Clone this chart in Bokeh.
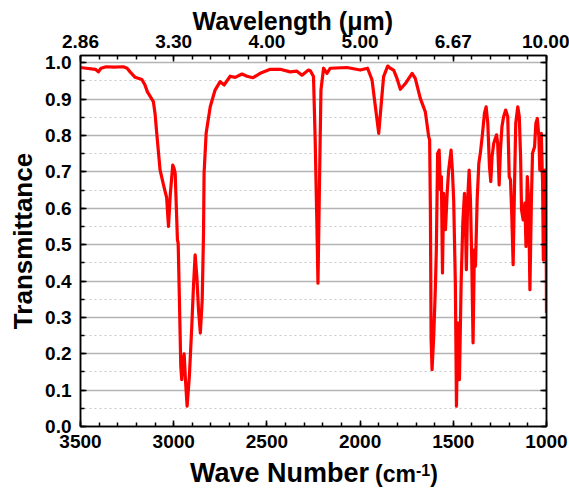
from bokeh.plotting import figure
from bokeh.models import (Range1d, LinearAxis, SingleIntervalTicker, PrintfTickFormatter,
                          CustomJSTickFormatter, Div)
from bokeh.layouts import column
from bokeh.embed import file_html
from bokeh.resources import INLINE

# ---- data ----
wave_number = [3500, 3470, 3440, 3420, 3404, 3390, 3362, 3320, 3270, 3250, 3234, 3207, 3171, 3155, 3141,
               3109, 3100, 3091, 3073, 3055, 3046, 3038, 3028, 3018, 3005, 2998, 2992, 2980, 2976, 2969,
               2962, 2957, 2950, 2944, 2937, 2928, 2916, 2903, 2894, 2885, 2876, 2867, 2857, 2847, 2840,
               2837, 2826, 2804, 2778, 2751, 2729, 2697, 2670, 2634, 2607, 2575, 2536, 2482, 2429, 2375,
               2339, 2312, 2277, 2267, 2250, 2241, 2232, 2226, 2217, 2210, 2196, 2178, 2160, 2070, 1999,
               1960, 1936, 1918, 1900, 1888, 1874, 1852, 1838, 1820, 1802, 1784, 1757, 1721, 1704, 1677,
               1650, 1632, 1627, 1623, 1619, 1614, 1605, 1596, 1591, 1584, 1576, 1569, 1564, 1558, 1552,
               1542, 1533, 1525, 1512, 1505, 1498, 1489, 1483, 1476, 1467, 1458, 1449, 1440, 1435, 1430,
               1423, 1415, 1408, 1401, 1394, 1387, 1381, 1372, 1363, 1355, 1345, 1333, 1324, 1315, 1306,
               1299, 1292, 1283, 1268, 1262, 1254, 1247, 1239, 1230, 1219, 1208, 1200, 1193, 1186, 1179,
               1172, 1165, 1154, 1146, 1139, 1134, 1125, 1116, 1110, 1103, 1096, 1089, 1081, 1075, 1064,
               1057, 1049, 1041, 1036, 1028, 1021, 1017, 1010, 1003, 1000]
transmittance = [0.987, 0.985, 0.983, 0.982, 0.975, 0.985, 0.989, 0.988, 0.989, 0.985, 0.975, 0.960, 0.954, 0.940, 0.920,
                 0.893, 0.860, 0.806, 0.705, 0.665, 0.646, 0.630, 0.550, 0.640, 0.719, 0.710, 0.696, 0.513, 0.504, 0.340,
                 0.166, 0.129, 0.180, 0.200, 0.129, 0.056, 0.138, 0.275, 0.385, 0.472, 0.413, 0.321, 0.257, 0.349, 0.532,
                 0.696, 0.806, 0.879, 0.925, 0.948, 0.939, 0.963, 0.960, 0.969, 0.963, 0.959, 0.971, 0.982, 0.982, 0.975,
                 0.977, 0.966, 0.980, 0.978, 0.962, 0.788, 0.559, 0.394, 0.696, 0.925, 0.985, 0.971, 0.985, 0.987, 0.980,
                 0.985, 0.953, 0.879, 0.806, 0.879, 0.962, 0.991, 0.985, 0.980, 0.957, 0.927, 0.943, 0.971, 0.957, 0.902,
                 0.865, 0.797, 0.788, 0.605, 0.239, 0.156, 0.248, 0.385, 0.486, 0.751, 0.760, 0.651, 0.687, 0.422, 0.641,
                 0.541, 0.641, 0.705, 0.760, 0.705, 0.623, 0.394, 0.056, 0.285, 0.129, 0.394, 0.559, 0.641, 0.559, 0.431,
                 0.623, 0.705, 0.623, 0.458, 0.230, 0.486, 0.440, 0.623, 0.724, 0.751, 0.797, 0.861, 0.879, 0.834, 0.715,
                 0.673, 0.742, 0.779, 0.802, 0.779, 0.664, 0.760, 0.824, 0.852, 0.870, 0.852, 0.687, 0.678, 0.577, 0.445,
                 0.651, 0.834, 0.879, 0.852, 0.742, 0.596, 0.568, 0.614, 0.495, 0.687, 0.623, 0.376, 0.623, 0.751, 0.769,
                 0.834, 0.847, 0.797, 0.705, 0.806, 0.669, 0.458, 0.705, 0.705, 0.312]

wn_ticks = [3500, 3000, 2500, 2000, 1500, 1000]
wavelength_labels = ["2.86", "3.30", "4.00", "5.00", "6.67", "10.00"]

FONT = "Liberation Sans"

p = figure(width=569, height=458, output_backend="svg", toolbar_location=None,
           x_range=Range1d(3500, 1000), y_range=Range1d(0, 1.02),
           min_border_left=80, min_border_right=23, min_border_top=55, min_border_bottom=32,
           x_axis_location=None, y_axis_location=None)
p.background_fill_color = "white"
p.border_fill_color = "white"
p.outline_line_color = "black"
p.outline_line_width = 1.5

p.title.text = "Wavelength (\u03bcm)"
p.title.align = "left"
p.title.offset = 112
p.title.text_font = FONT
p.title.text_font_style = "bold"
p.title.text_font_size = "25px"
p.title.text_color = "black"
p.title.standoff = -6

xticker = SingleIntervalTicker(interval=500, num_minor_ticks=5)
yticker = SingleIntervalTicker(interval=0.1, num_minor_ticks=2)


def style_axis(ax):
    ax.axis_line_color = "black"
    ax.axis_line_width = 1.5
    ax.major_tick_in = 6
    ax.major_tick_out = 0
    ax.minor_tick_in = 4
    ax.minor_tick_out = 0
    ax.major_tick_line_color = "black"
    ax.minor_tick_line_color = "black"
    ax.major_tick_line_width = 1.5
    ax.minor_tick_line_width = 1.5
    ax.major_label_text_font = FONT
    ax.major_label_text_font_style = "bold"
    ax.major_label_text_font_size = "19px"
    ax.major_label_text_color = "black"


bottom = LinearAxis(ticker=xticker, formatter=PrintfTickFormatter(format="%d"))
style_axis(bottom)
bottom.major_label_standoff = 8
p.add_layout(bottom, "below")

top = LinearAxis(ticker=xticker,
                 major_label_overrides={t: s for t, s in zip(wn_ticks, wavelength_labels)})
style_axis(top)
top.major_label_standoff = 8
p.add_layout(top, "above")

left = LinearAxis(ticker=yticker, formatter=PrintfTickFormatter(format="%.1f"))
style_axis(left)
left.major_label_standoff = 9
left.axis_label = "Transmittance"
left.axis_label_text_font = FONT
left.axis_label_text_font_style = "bold"
left.axis_label_text_font_size = "26px"
left.axis_label_text_color = "black"
left.axis_label_standoff = 4
p.add_layout(left, "left")

right = LinearAxis(ticker=yticker, formatter=CustomJSTickFormatter(code="return ''"))
style_axis(right)
p.add_layout(right, "right")

p.xgrid.visible = False
p.ygrid.ticker = yticker
p.ygrid.grid_line_color = "#b4b4b4"
p.ygrid.grid_line_width = 1.5
p.ygrid.minor_grid_line_color = "#c8c8c8"
p.ygrid.minor_grid_line_dash = "2 3"
p.ygrid.minor_grid_line_width = 1

p.line(wave_number, transmittance, line_color="#ff0000", line_width=3.2, line_join="round")

xlabel = Div(
    width=569, height=32,
    text=('<div style="font-family:\'Liberation Sans\';font-weight:bold;color:black;'
          'white-space:nowrap;line-height:26px;padding-left:185px;margin:0;'
          'position:relative;top:-3px;">'
          '<span style="font-size:27px;">Wave Number</span>'
          '<span style="font-size:23px;margin-left:6px;">(cm</span>'
          '<span style="font-size:16px;position:relative;top:-6px;">-1</span>'
          '<span style="font-size:23px;">)</span></div>'))

layout = column(p, xlabel, spacing=0)
open("out.html", "w").write(file_html(layout, INLINE))
